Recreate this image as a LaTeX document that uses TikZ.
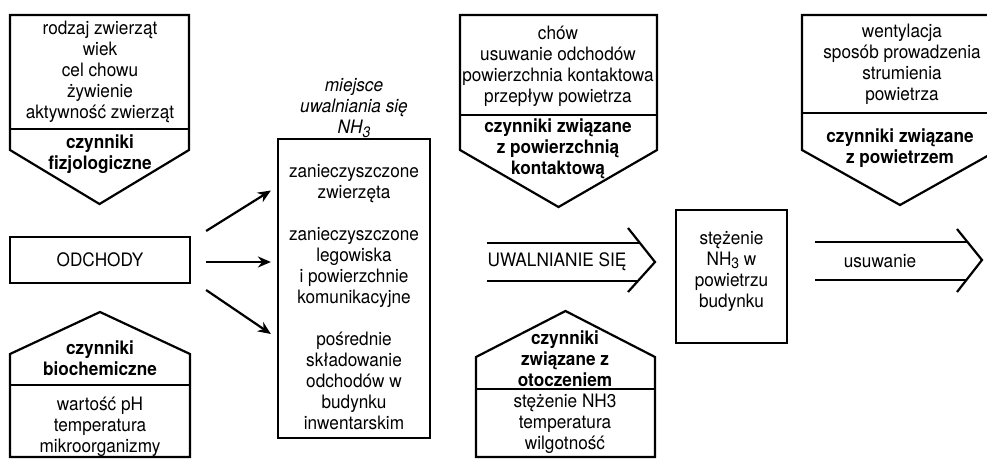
\documentclass[tikz,border=0pt]{standalone}
\usepackage{fontspec}
\setmainfont[FakeStretch=0.93]{TeX Gyre Heros}
\usetikzlibrary{arrows.meta}
\newcommand\lowthree{\raisebox{-0.4ex}{\fontsize{15}{15}\selectfont 3}}
\begin{document}
\begin{tikzpicture}[x=1pt,y=-1pt,
  txt/.style={align=center,inner sep=0pt,font=\fontsize{18.5}{21}\selectfont},
  btxt/.style={align=center,inner sep=0pt,font=\fontsize{18.5}{21}\selectfont\bfseries},
  itxt/.style={align=center,inner sep=0pt,font=\fontsize{18.5}{21}\selectfont\itshape},
  shp/.style={draw=black,line width=2.2pt,line join=miter},
  boxn/.style={draw=black,line width=2.2pt,inner sep=0pt},
  arr/.style={-{Stealth[length=13pt,width=11pt]},line width=2.2pt}]
\useasboundingbox (0,0) rectangle (987,459);
\clip (0,0) rectangle (987,459);

% top-left pentagon
\draw[shp] (10,15) -- (189,15) -- (189,150) -- (99.5,204) -- (10,150) -- cycle;
\draw[shp] (10,129) -- (189,129);
\node[txt] (tl1) at (100,72) {rodzaj zwierząt\\wiek\\cel chowu\\żywienie\\aktywność zwierząt};
\node[btxt] (tl2) at (100,154) {czynniki\\fizjologiczne};

% ODCHODY
\node[boxn,txt,draw,minimum width=180pt,minimum height=46pt] (odch) at (100,260) {ODCHODY};

% bottom-left house
\draw[shp] (10,457) -- (10,354) -- (100,312) -- (190,354) -- (190,457) -- cycle;
\draw[shp] (10,385) -- (190,385);
\node[btxt] (bl1) at (100,358) {czynniki\\biochemiczne};
\node[txt] (bl2) at (100,427) {wartość pH\\temperatura\\mikroorganizmy};

% middle column
\node[itxt] (lab) at (354,108) {miejsce\\uwalniania się\\NH\lowthree};
\node[boxn,minimum width=152pt,minimum height=299pt] (midbox) at (354,288.5) {};
\node[txt] (midtxt) at (354,297) {zanieczyszczone\\zwierzęta\\[21pt]zanieczyszczone\\legowiska\\i powierzchnie\\komunikacyjne\\[21pt]pośrednie\\składowanie\\odchodów w\\budynku\\inwentarskim};

\draw[arr] ([shift={(15,-29)}]odch.east) -- ([shift={(-6,-98)}]midbox.west);
\draw[arr] ([shift={(15,2)}]odch.east) -- ([shift={(-6,-26.5)}]midbox.west);
\draw[arr] ([shift={(15,30)}]odch.east) -- ([shift={(-6,45.5)}]midbox.west);

% top-middle pentagon
\draw[shp] (460,15) -- (657,15) -- (657,150) -- (558.5,207) -- (460,150) -- cycle;
\draw[shp] (460,115) -- (657,115);
\node[txt] (tm1) at (558,66) {chów\\usuwanie odchodów\\powierzchnia kontaktowa\\przepływ powietrza};
\node[btxt] (tm2) at (558,149) {czynniki związane\\z powierzchnią\\kontaktową};

% UWALNIANIE SIĘ double arrow
\node[txt] (uwal) at (557,262) {UWALNIANIE SIĘ};
\draw[shp] (487,243) -- (640,243);
\draw[shp] (487,281) -- (638,281);
\draw[shp] (628,228) -- (655,262) -- (628,292);

% bottom-middle house
\draw[shp] (476,457) -- (476,357) -- (565.5,311) -- (655,357) -- (655,457) -- cycle;
\draw[shp] (476,389) -- (655,389);
\node[btxt] (bm1) at (565,359) {czynniki\\związane z\\otoczeniem};
\node[txt] (bm2) at (565,424) {stężenie NH3\\temperatura\\wilgotność};

% stężenie box
\node[boxn,minimum width=111pt,minimum height=133pt] (stbox) at (731.5,276.5) {};
\node[txt] (sttxt) at (731.5,271) {stężenie\\NH\lowthree{} w\\powietrzu\\budynku};

% usuwanie double arrow
\node[txt] (usu) at (880,261) {usuwanie};
\draw[shp] (815,242) -- (967,242);
\draw[shp] (815,280) -- (966,280);
\draw[shp] (957,229) -- (982,260) -- (957,292);

% top-right pentagon
\draw[shp] (802,15) -- (998,15) -- (998,150) -- (900,205) -- (802,150) -- cycle;
\draw[shp] (802,113) -- (998,113);
\node[txt] (tr1) at (902,64) {wentylacja\\sposób prowadzenia\\strumienia\\powietrza};
\node[btxt] (tr2) at (900,148) {czynniki związane\\z powietrzem};
\end{tikzpicture}
\end{document}
